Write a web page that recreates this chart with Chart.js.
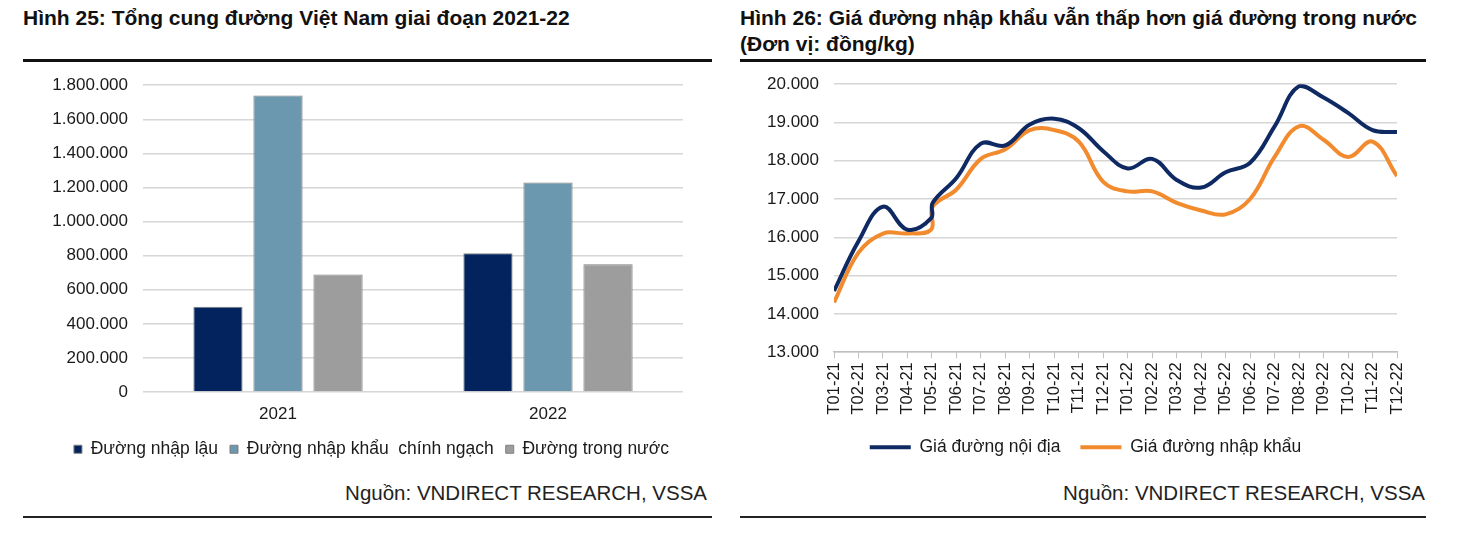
<!DOCTYPE html>
<html>
<head>
<meta charset="utf-8">
<script src="https://cdn.jsdelivr.net/npm/chart.js@4.4.1/dist/chart.umd.min.js"></script>
<style>
  body { margin: 0; background: #fff; font-family: "Liberation Sans", Arial, sans-serif; color: #111; }
  .titulo { position: absolute; font-weight: bold; font-size: 21px; line-height: 26px; color: #111; white-space: nowrap; }
  .linha-grossa { position: absolute; height: 3px; background: #111; }
  .linha-fina { position: absolute; height: 1.5px; background: #222; }
  .fonte { position: absolute; font-size: 20.5px; color: #222; text-align: right; white-space: nowrap; }
  .caixa { position: absolute; }
</style>
</head>
<body>
<div class="titulo" style="left:23px; top:5px;">Hình 25: Tổng cung đường Việt Nam giai đoạn 2021-22</div>
<div class="linha-grossa" style="left:23px; top:59px; width:689px;"></div>
<div class="caixa" style="left:0; top:60px; width:720px; height:408px;"><canvas id="graficoBarras"></canvas></div>
<div class="fonte" style="left:200px; top:481px; width:507px;">Nguồn: VNDIRECT RESEARCH, VSSA</div>
<div class="linha-fina" style="left:23px; top:516px; width:689px;"></div>

<div class="titulo" style="left:740px; top:5px;">Hình 26: Giá đường nhập khẩu vẫn thấp hơn giá đường trong nước<br>(Đơn vị: đồng/kg)</div>
<div class="linha-grossa" style="left:740px; top:59px; width:686px;"></div>
<div class="caixa" style="left:730px; top:59px; width:734px; height:407px;"><canvas id="graficoLinhas"></canvas></div>
<div class="fonte" style="left:900px; top:481px; width:525px;">Nguồn: VNDIRECT RESEARCH, VSSA</div>
<div class="linha-fina" style="left:740px; top:516px; width:686px;"></div>

<script>
// Hình 25 - tổng cung (tấn)
const anos = ['2021', '2022'];
const series = ['Đường nhập lậu', 'Đường nhập khẩu  chính ngạch', 'Đường trong nước'];
const nhapLau = [500000, 815000];
const nhapKhau = [1740000, 1230000];
const trongNuoc = [690000, 750000];

// Hình 26 - giá đường (đồng/kg), posição em meses desde T01-21
const meses = ['T01-21', 'T02-21', 'T03-21', 'T04-21', 'T05-21', 'T06-21', 'T07-21', 'T08-21',
    'T09-21', 'T10-21', 'T11-21', 'T12-21', 'T01-22', 'T02-22', 'T03-22', 'T04-22', 'T05-22',
    'T06-22', 'T07-22', 'T08-22', 'T09-22', 'T10-22', 'T11-22', 'T12-22'];
const posicoes = [0, 1, 2, 3, 3.97, 4.03, 5, 6, 7, 8, 9, 10, 11, 12, 13, 14, 15, 16, 17, 18, 19, 20, 21, 22, 23];
const giaNoiDia = [14600, 15900, 16800, 16200, 16500, 16900, 17550, 18450, 18400, 18950, 19100, 18850,
    18250, 17800, 18050, 17500, 17300, 17700, 17950, 18900, 19950, 19650, 19250, 18800, 18750];
const giaNhapKhau = [14300, 15600, 16100, 16100, 16200, 16800, 17250, 18050, 18300, 18800, 18800, 18500,
    17450, 17200, 17200, 16900, 16700, 16600, 17000, 18100, 18900, 18550, 18100, 18500, 17600];

const coresBarras = ['#03235F', '#6B98AF', '#9D9D9D'];
const fonteBase = { family: '"Liberation Sans", Arial, sans-serif', size: 17 };
const formatar = v => v.toLocaleString('de-DE');

// Desloca a legenda para a direita (centralizada sob a figura toda, como no original)
const deslocaLegenda = desvio => ({
    id: 'deslocaLegenda',
    afterLayout(chart) {
        chart.legend.left += desvio;
        chart.legend.right += desvio;
    }
});

window.onload = () => {
    Chart.defaults.color = '#1a1a1a';
    desenharBarras();
    desenharLinhas();
};

function desenharBarras() {
    const valores = [nhapLau, nhapKhau, trongNuoc];
    new Chart(document.getElementById('graficoBarras'), {
        type: 'bar',
        data: {
            labels: anos,
            datasets: series.map((nome, i) => ({
                label: nome,
                data: valores[i],
                backgroundColor: coresBarras[i],
                borderColor: '#7F7F7F',
                borderWidth: 1,
                categoryPercentage: 0.667,
                barPercentage: 0.82
            }))
        },
        plugins: [deslocaLegenda(30)],
        options: {
            responsive: true,
            maintainAspectRatio: false,
            animation: false,
            layout: { padding: { top: 8, right: 37, left: 0, bottom: 0 } },
            plugins: {
                tooltip: { enabled: false },
                legend: {
                    position: 'bottom',
                    labels: {
                        boxWidth: 8, boxHeight: 8, padding: 12,
                        font: { family: fonteBase.family, size: 17.5 },
                        color: '#1a1a1a'
                    }
                }
            },
            scales: {
                x: {
                    grid: { display: false },
                    border: { display: false },
                    ticks: { font: fonteBase, padding: 4 }
                },
                y: {
                    min: 0, max: 1800000,
                    ticks: { stepSize: 200000, font: fonteBase, padding: 15, callback: formatar },
                    grid: { color: '#D6D6D6', lineWidth: 1.5, drawTicks: false },
                    border: { display: false },
                    afterFit: escala => { escala.width = 143; }
                }
            }
        }
    });
}

function desenharLinhas() {
    const pontos = valores => posicoes.map((x, i) => ({ x: x, y: valores[i] }));
    new Chart(document.getElementById('graficoLinhas'), {
        type: 'line',
        data: {
            datasets: [
                { label: 'Giá đường nội địa', data: pontos(giaNoiDia), borderColor: '#0F2A63', backgroundColor: '#0F2A63', borderWidth: 4 },
                { label: 'Giá đường nhập khẩu', data: pontos(giaNhapKhau), borderColor: '#F28A2E', backgroundColor: '#F28A2E', borderWidth: 4 }
            ]
        },
        plugins: [deslocaLegenda(22)],
        options: {
            responsive: true,
            maintainAspectRatio: false,
            animation: false,
            elements: {
                line: { tension: 0.4 },
                point: { radius: 0 }
            },
            layout: { padding: { top: 7, right: 67, left: 0, bottom: 0 } },
            plugins: {
                tooltip: { enabled: false },
                legend: {
                    position: 'bottom',
                    labels: {
                        usePointStyle: true, pointStyle: 'line', pointStyleWidth: 41,
                        padding: 20,
                        font: { family: fonteBase.family, size: 17.5 },
                        color: '#1a1a1a'
                    }
                }
            },
            scales: {
                x: {
                    type: 'linear', min: 0, max: 23,
                    ticks: {
                        stepSize: 1, autoSkip: false, maxRotation: 90, minRotation: 90,
                        font: { family: fonteBase.family, size: 16.5 }, padding: 4,
                        callback: v => meses[v]
                    },
                    grid: { drawOnChartArea: false, drawTicks: true, tickLength: 6, color: '#BFBFBF' },
                    border: { color: '#BFBFBF', width: 1.5 }
                },
                y: {
                    min: 13000, max: 20000,
                    ticks: { stepSize: 1000, font: fonteBase, padding: 15, callback: formatar },
                    grid: { color: '#D6D6D6', lineWidth: 1.5, drawTicks: false },
                    border: { display: false },
                    afterFit: escala => { escala.width = 104; }
                }
            }
        }
    });
}
</script>
</body>
</html>
